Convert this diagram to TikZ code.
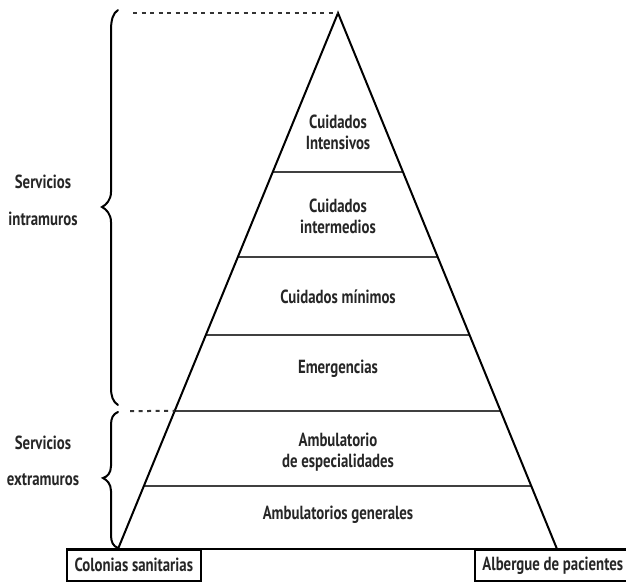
\documentclass[tikz,border=0pt]{standalone}
\usepackage{fontspec}
\setmainfont{PT Sans}[FakeStretch=0.78]
\usetikzlibrary{calc}
\begin{document}
\begin{tikzpicture}[x=1pt,y=-1pt,
  edge/.style={line width=2pt, line join=miter},
  levelline/.style={line width=2.6pt, draw=black!75},
  dashline/.style={line width=2pt, draw=black!80, dash pattern=on 4pt off 4.5pt},
  bracestyle/.style={line width=2pt, line cap=round},
  lbl/.style={font=\bfseries\fontsize{19}{21}\selectfont, text=black!85, align=center, inner sep=0pt},
  boxstyle/.style={draw, line width=1.6pt, inner sep=0pt, anchor=north west,
    font=\bfseries\fontsize{19}{21}\selectfont, text=black!85}]
\useasboundingbox (0,0) rectangle (626,582);
% pyramid
\coordinate (A) at (338,13);
\coordinate (BL) at (118,549);
\coordinate (BR) at (557,549);
\foreach \n/\t in {1/0.2966,2/0.4552,3/0.6007,4/0.7425,5/0.8825} {
  \coordinate (L\n) at ($(A)!\t!(BL)$);
  \coordinate (R\n) at ($(A)!\t!(BR)$);
}
\foreach \n in {1,...,5} \draw[levelline] (L\n) -- (R\n);
% base line and boxes
\coordinate (BaseL) at (66,549);
\coordinate (BaseR) at (630,549);
\node[boxstyle, minimum width=134, minimum height=31] (col) at (BaseL) {Colonias sanitarias};
\node[boxstyle, minimum width=156, minimum height=31] (alb) at (474,549) {Albergue de pacientes};
\draw[line width=1.6pt] (BaseL) -- (BaseR);
\draw[edge] (BL) -- (A) -- (BR);
% dashed lines
\coordinate (D1) at (133,13);
\coordinate (D2) at (130,411);
\draw[dashline] (D1) -- (A);
\draw[dashline] (D2) -- (L4);
% braces
\draw[bracestyle] (118,10) .. controls (113,13) and (111,20) .. (111,30) -- (111,192)
  .. controls (111,200) and (106,205) .. (102,207)
  .. controls (106,209) and (111,214) .. (111,222) -- (111,388)
  .. controls (111,396) and (113,402) .. (118,405);
\draw[bracestyle] (118,412) .. controls (113,414) and (111,418) .. (111,425) -- (111,466)
  .. controls (111,473) and (107,477) .. (103,478)
  .. controls (107,480) and (111,484) .. (111,491) -- (111,535)
  .. controls (111,542) and (113,546) .. (118,548);
% pyramid labels
\node[lbl] (ci) at (338,132.5) {Cuidados\\Intensivos};
\node[lbl] (cint) at (338,216) {Cuidados\\intermedios};
\node[lbl] (cm) at (338,297) {Cuidados mínimos};
\node[lbl] (em) at (338,369) {Emergencias};
\node[lbl] (ae) at (338,452.5) {Ambulatorio\\de especialidades};
\node[lbl] (ag) at (338,515) {Ambulatorios generales};
% side labels
\node[lbl] (s1) at (43,182) {Servicios};
\node[lbl] (s2) at (43,219) {intramuros};
\node[lbl] (s3) at (43,443) {Servicios};
\node[lbl] (s4) at (43,480) {extramuros};
\end{tikzpicture}
\end{document}
